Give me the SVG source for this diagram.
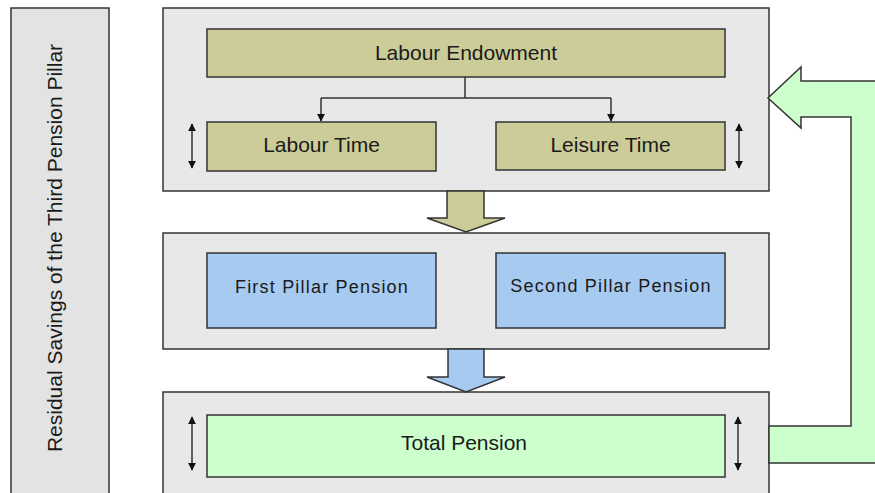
<svg xmlns="http://www.w3.org/2000/svg" width="875" height="493" viewBox="0 0 875 493">
<style>
.panel{fill:#E8E8E8;stroke:#333;stroke-width:1.5}
.olive{fill:#CCCC99;stroke:#333;stroke-width:1.5}
.blue{fill:#A6CAF0;stroke:#333;stroke-width:1.5}
.green{fill:#CCFFCC;stroke:#333;stroke-width:1.5}
.t{font-family:"Liberation Sans",Arial,sans-serif;font-size:21px;fill:#1a1a1a;text-anchor:middle}
.t2{font-family:"Liberation Sans",Arial,sans-serif;font-size:18px;fill:#1a1a1a;text-anchor:middle;letter-spacing:1.2px}
.ln{fill:none;stroke:#333;stroke-width:1.5}
</style>
<defs>
<marker id="ah" viewBox="0 0 10 10" refX="9" refY="5" markerWidth="8" markerHeight="8" markerUnits="userSpaceOnUse" orient="auto-start-reverse">
<path d="M0,0 L10,5 L0,10 z" fill="#111"/>
</marker>
</defs>
<rect width="875" height="493" fill="#fff"/>
<g id="residual-savings">
<rect x="11" y="8" width="98" height="495" fill="#E3E3E3" stroke="#333" stroke-width="1.5"/>
<text class="t" transform="translate(62,248) rotate(-90)">Residual Savings of the Third Pension Pillar</text>
</g>
<g id="panel-labour">
<rect class="panel" x="163" y="8" width="606" height="183"/>
</g>
<g id="labour-endowment">
<rect class="olive" x="207" y="29" width="518" height="48"/>
<text class="t" x="466" y="60">Labour Endowment</text>
</g>
<g id="labour-time">
<rect class="olive" x="207" y="122" width="229" height="49"/>
<text class="t" x="321.5" y="152">Labour Time</text>
</g>
<g id="leisure-time">
<rect class="olive" x="496" y="122" width="229" height="48"/>
<text class="t" x="610.5" y="152">Leisure Time</text>
</g>
<g id="panel-pensions">
<rect class="panel" x="163" y="233" width="606" height="116"/>
</g>
<g id="first-pillar">
<rect class="blue" x="207" y="253" width="229" height="75"/>
<text class="t2" x="322" y="293">First Pillar Pension</text>
</g>
<g id="second-pillar">
<rect class="blue" x="496" y="253" width="229" height="75"/>
<text class="t2" x="611" y="292">Second Pillar Pension</text>
</g>
<g id="panel-total">
<rect class="panel" x="163" y="392" width="606" height="115"/>
</g>
<g id="total-pension">
<rect class="green" x="207" y="415" width="518" height="62"/>
<text class="t" x="464" y="450">Total Pension</text>
</g>
<g id="connectors">
<path class="ln" d="M465,77 V98 M321,98 H611"/>
<path class="ln" d="M321,98 V121" marker-end="url(#ah)"/>
<path class="ln" d="M611,98 V121" marker-end="url(#ah)"/>
<path class="ln" d="M192,124 V168" marker-start="url(#ah)" marker-end="url(#ah)"/>
<path class="ln" d="M739,124 V168" marker-start="url(#ah)" marker-end="url(#ah)"/>
<path class="ln" d="M192,417 V470" marker-start="url(#ah)" marker-end="url(#ah)"/>
<path class="ln" d="M738,417 V470" marker-start="url(#ah)" marker-end="url(#ah)"/>
<path class="olive" d="M447,191 H484 V218 H505 L466,232 L427,218 H447 Z"/>
<path class="blue" d="M448,349 H484 V377 H505 L466,392 L427,377 H448 Z"/>
<path class="green" d="M769,426 H851 V117 H801 V128 L768,98 L801,67 V81 H890 V463 H769 Z"/>
</g>
</svg>
